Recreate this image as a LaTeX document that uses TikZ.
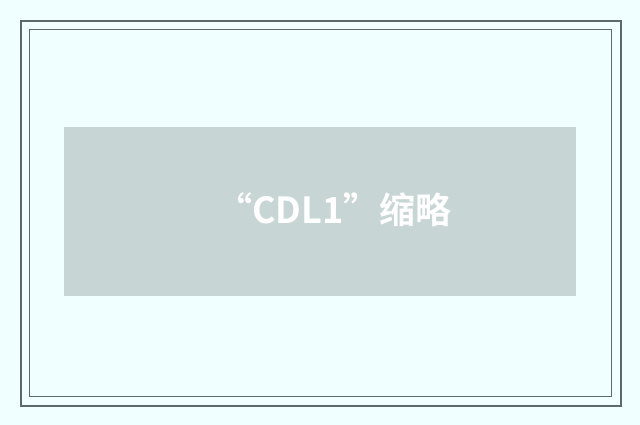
\documentclass[tikz,border=0pt]{standalone}
\usepackage{fontspec}
\newfontfamily\cjk{Noto Sans CJK SC}[BoldFont={Noto Sans CJK SC Bold}]
\definecolor{bgc}{HTML}{F0FFFF}
\definecolor{framec}{HTML}{5B6B6B}
\definecolor{boxc}{HTML}{C8D5D5}
\tikzset{
  outerframe/.style={draw=framec, line width=2pt},
  innerframe/.style={draw=framec, line width=1pt},
  banner/.style={fill=boxc, draw=none},
  title/.style={text=white, font=\cjk\bfseries\fontsize{36pt}{42pt}\selectfont, inner sep=0pt}
}
\begin{document}
\begin{tikzpicture}[x=1pt,y=-1pt]
\fill[bgc] (0,0) rectangle (640,425);
\useasboundingbox (0,0) rectangle (640,425);
\draw[outerframe] (21,21) rectangle (621,406);
\draw[innerframe] (29.5,29.5) rectangle (611.5,396.5);
\fill[banner] (64,127) rectangle (576,296);
\node[title] (t) at (334,210) {“CDL1”缩略};
\end{tikzpicture}
\end{document}
